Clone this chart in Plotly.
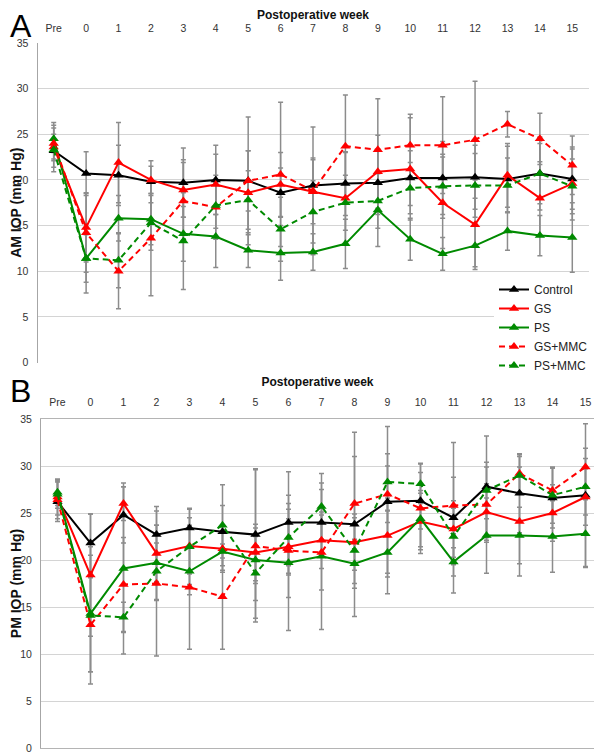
import plotly.graph_objects as go

weeks = ["Pre", "0", "1", "2", "3", "4", "5", "6", "7", "8", "9", "10", "11", "12", "13", "14", "15"]
series_names = ["Control", "GS", "PS", "GS+MMC", "PS+MMC"]

# Panel A: AM IOP (mm Hg), means
am_control = [23.2, 20.7, 20.5, 19.8, 19.7, 20.0, 19.9, 18.6, 19.4, 19.6, 19.7, 20.2, 20.2, 20.3, 20.1, 20.7, 20.1]
am_gs      = [23.6, 14.8, 21.9, 20.0, 18.9, 19.5, 18.6, 19.5, 18.7, 18.0, 20.9, 21.2, 17.5, 15.1, 20.5, 18.0, 19.6]
am_ps      = [24.5, 11.4, 15.8, 15.7, 14.1, 13.8, 12.3, 12.0, 12.1, 13.0, 16.7, 13.5, 11.9, 12.8, 14.4, 13.9, 13.7]
am_gs_mmc  = [24.0, 14.2, 10.0, 13.6, 17.7, 17.0, 19.9, 20.6, 18.8, 23.7, 23.3, 23.8, 23.8, 24.4, 26.1, 24.5, 21.6]
am_ps_mmc  = [23.3, 11.4, 11.2, 15.3, 13.3, 17.2, 17.8, 14.6, 16.5, 17.5, 17.7, 19.1, 19.3, 19.4, 19.4, 20.7, 19.3]

# Panel A: error bars (SD)
am_control_sd = [1.8, 2.4, 3.3, 2.3, 3.8, 3.8, 3.3, 2.7, 3.0, 3.5, 3.5, 3.0, 4.0, 3.5, 3.6, 3.3, 3.3]
am_gs_sd      = [2.7, 3.8, 4.4, 1.5, 3.0, 3.3, 4.6, 3.5, 3.5, 5.0, 4.0, 5.6, 5.0, 4.9, 3.5, 4.0, 4.0]
am_ps_sd      = [1.5, 3.8, 2.5, 2.8, 3.0, 3.4, 1.9, 3.0, 2.0, 2.7, 4.0, 2.3, 1.8, 2.3, 2.1, 2.2, 3.8]
am_gs_mmc_sd  = [1.7, 4.3, 4.1, 6.3, 4.5, 3.5, 7.0, 7.9, 7.0, 5.6, 5.6, 3.4, 5.3, 6.4, 1.4, 2.8, 3.2]
am_ps_mmc_sd  = [1.2, 2.6, 3.0, 3.0, 5.3, 2.5, 3.2, 3.5, 3.4, 3.0, 3.0, 2.8, 3.5, 3.5, 3.0, 4.0, 3.0]

# Panel B: PM IOP (mm Hg), means
pm_control = [26.2, 21.8, 24.8, 22.7, 23.4, 23.0, 22.7, 24.0, 24.0, 23.8, 26.2, 26.3, 24.5, 27.8, 27.1, 26.6, 26.9]
pm_gs      = [26.7, 18.4, 26.0, 20.7, 21.5, 21.2, 20.8, 21.4, 22.1, 21.9, 22.6, 24.1, 23.3, 25.1, 24.1, 25.0, 26.7]
pm_ps      = [27.2, 14.3, 19.1, 19.7, 18.8, 20.9, 20.0, 19.7, 20.4, 19.6, 20.8, 24.4, 19.8, 22.6, 22.6, 22.5, 22.8]
pm_gs_mmc  = [26.4, 13.1, 17.4, 17.5, 17.1, 16.1, 21.5, 21.0, 20.8, 26.0, 27.0, 25.5, 25.8, 25.9, 29.2, 27.4, 29.9]
pm_ps_mmc  = [27.0, 14.1, 13.9, 18.8, 21.4, 23.7, 18.6, 22.4, 25.7, 21.0, 28.3, 28.1, 22.5, 27.4, 29.0, 26.9, 27.8]

# Panel B: error bars (SD)
pm_control_sd = [2.1, 3.1, 3.0, 3.0, 2.1, 2.8, 7.0, 5.4, 3.5, 9.8, 8.0, 3.0, 8.0, 5.4, 4.2, 3.2, 7.6]
pm_gs_sd      = [1.9, 6.5, 1.8, 3.0, 3.0, 2.5, 3.0, 3.0, 3.0, 3.0, 4.0, 3.0, 3.0, 3.0, 5.8, 3.0, 3.0]
pm_ps_sd      = [1.4, 6.2, 9.1, 4.0, 2.5, 2.0, 2.5, 7.2, 7.8, 2.6, 4.4, 3.0, 1.5, 4.0, 3.0, 3.8, 3.6]
pm_gs_mmc_sd  = [2.0, 5.0, 5.0, 7.7, 6.6, 5.6, 8.1, 5.0, 4.0, 5.0, 3.0, 4.8, 3.0, 4.0, 2.0, 2.4, 2.0]
pm_ps_mmc_sd  = [1.5, 7.3, 1.6, 3.0, 4.0, 4.3, 4.8, 3.0, 3.5, 3.5, 3.0, 2.1, 3.0, 3.0, 2.0, 3.0, 3.0]

colors = ["#000000", "#ff0000", "#008a00", "#ff0000", "#008a00"]
dashes = ["solid", "solid", "solid", "6px,4px", "6px,4px"]

am_means = [am_control, am_gs, am_ps, am_gs_mmc, am_ps_mmc]
am_sds = [am_control_sd, am_gs_sd, am_ps_sd, am_gs_mmc_sd, am_ps_mmc_sd]
pm_means = [pm_control, pm_gs, pm_ps, pm_gs_mmc, pm_ps_mmc]
pm_sds = [pm_control_sd, pm_gs_sd, pm_ps_sd, pm_gs_mmc_sd, pm_ps_mmc_sd]

FONT = "Liberation Sans, Arial, Helvetica, sans-serif"
OFF = 8  # page body margin in the browser
W, H = 602 - 2 * OFF, 753 - OFF
GRID = "#d4d4d4"
AXIS = "#a6a6a6"
ERR = "#8c8c8c"

fig = go.Figure()

panels = [("x", "y", am_means, am_sds, True), ("x3", "y3", pm_means, pm_sds, False)]
for xa, ya, means, sds, legend in panels:
    # error bars first (behind all lines)
    for name, m, sd in zip(series_names, means, sds):
        fig.add_trace(go.Scatter(
            x=weeks, y=m, xaxis=xa, yaxis=ya, mode="markers",
            marker=dict(size=1, color="rgba(0,0,0,0)"),
            error_y=dict(type="data", array=sd, symmetric=True, color=ERR, thickness=1.5, width=2.5),
            showlegend=False, hoverinfo="skip"))
    for name, m, c, d in zip(series_names, means, colors, dashes):
        fig.add_trace(go.Scatter(
            x=weeks, y=m, xaxis=xa, yaxis=ya, mode="lines+markers", name=name,
            line=dict(color=c, width=2, dash=d),
            marker=dict(symbol="triangle-up", size=9, color=c),
            showlegend=legend))

def px_x(p):
    return (p - OFF) / W

def px_y(p):
    return 1 - (p - OFF) / H

# Panel geometry (window pixels)
A_left, A_right, A_top, A_bot = 37.5, 588.5, 43, 362.5
B_left, B_right, B_top, B_bot = 41, 594, 419, 748
B_step = 33.0
B_max = -0.5 + (B_right - B_left) / B_step

label_font = dict(family=FONT, size=10.5, color="#333333")
title_x = dict(text="<b>Postoperative week</b>", font=dict(family=FONT, size=12, color="#111111"), standoff=6)

# Panel A: category axis on top with labels, overlay linear axis at the bottom for boundary ticks
xA = dict(domain=[px_x(A_left), px_x(A_right)], anchor="y", type="category", categoryorder="array",
          categoryarray=weeks, range=[-0.5, 16.5], side="top", showgrid=False, showline=False,
          ticks="", tickfont=label_font, ticklabelstandoff=8, automargin=False, title=title_x)
xA_bottom = dict(overlaying="x", anchor="y", side="bottom", type="linear", range=[-0.5, 16.5],
                 tickvals=[i - 0.5 for i in range(18)], ticks="outside", ticklen=4, tickcolor=AXIS,
                 showticklabels=False, showgrid=False, showline=True, linecolor=AXIS, linewidth=1,
                 zeroline=False, automargin=False)

# Panel B: category axis on top with labels; its mirrored line closes the bottom edge
xB = dict(domain=[px_x(B_left), px_x(B_right)], anchor="y3", type="category", categoryorder="array",
          categoryarray=weeks, range=[-0.5, B_max], side="top", showgrid=False,
          showline=True, mirror=True, linecolor="#b4b4b4", linewidth=1,
          ticks="", tickfont=label_font, ticklabelstandoff=8, automargin=False, title=title_x)

def y_axis(top, bot, anchor, title):
    return dict(domain=[px_y(bot), px_y(top)], anchor=anchor, range=[0, 35], dtick=5,
                showgrid=True, gridcolor=GRID, gridwidth=1, zeroline=False,
                showline=True, linecolor=AXIS, linewidth=1, ticks="",
                tickfont=label_font, ticklabelstandoff=6, ticklabeloverflow="allow",
                automargin=False,
                title=dict(text="<b>%s</b>" % title, font=dict(family=FONT, size=14, color="#111111"), standoff=6))

fig.update_layout(
    width=W, height=H, margin=dict(l=0, r=0, t=0, b=0),
    paper_bgcolor="white", plot_bgcolor="white",
    font=dict(family=FONT, color="#333333"),
    xaxis=xA, xaxis2=xA_bottom, xaxis3=xB,
    yaxis=y_axis(A_top, A_bot, "x", "AM IOP (mm Hg)"),
    yaxis3=y_axis(B_top, B_bot, "x3", "PM IOP (mm Hg)"),
    legend=dict(x=px_x(494), y=px_y(275), xanchor="left", yanchor="top",
                bgcolor="white", font=dict(family=FONT, size=12, color="#222222"),
                tracegroupgap=0, itemwidth=30),
    showlegend=True,
    annotations=[
        dict(text="A", x=px_x(OFF), y=px_y(OFF), xref="paper", yref="paper", xanchor="left", yanchor="top",
             yshift=2, showarrow=False, font=dict(family=FONT, size=32, color="#000000")),
        dict(text="B", x=px_x(OFF), y=px_y(371), xref="paper", yref="paper", xanchor="left", yanchor="top",
             showarrow=False, font=dict(family=FONT, size=32, color="#000000")),
    ],
)

fig.write_html("out.html")
